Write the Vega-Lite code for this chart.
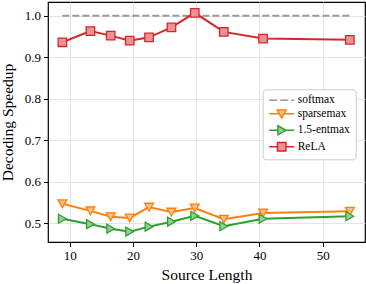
{
  "$schema": "https://vega.github.io/schema/vega-lite/v6.json",
  "width": 317,
  "height": 240,
  "autosize": {"type": "none"},
  "padding": {"left": 48, "top": 2, "right": 1, "bottom": 42},
  "config": {
    "view": {"stroke": "#000000", "strokeWidth": 1.2},
    "axis": {
      "labelFont": "Liberation Serif",
      "titleFont": "Liberation Serif",
      "labelFontSize": 13,
      "titleFontSize": 15.5,
      "titleFontWeight": 400,
      "labelColor": "#000000",
      "titleColor": "#000000",
      "tickColor": "#000000",
      "tickSize": 4.5,
      "tickWidth": 1,
      "gridColor": "#dddddd",
      "gridWidth": 0.8,
      "domain": false,
      "labelPadding": 3
    },
    "legend": {
      "labelFont": "Liberation Serif",
      "labelFontSize": 11.5,
      "labelColor": "#000000"
    }
  },
  "data": {
    "values": [
      {"series": "softmax", "x": 8.84, "y": 1.0},
      {"series": "softmax", "x": 54.3, "y": 1.0},
      {"series": "sparsemax", "x": 8.84, "y": 0.547},
      {"series": "sparsemax", "x": 13.28, "y": 0.530},
      {"series": "sparsemax", "x": 16.49, "y": 0.516},
      {"series": "sparsemax", "x": 19.49, "y": 0.513},
      {"series": "sparsemax", "x": 22.55, "y": 0.539},
      {"series": "sparsemax", "x": 26.09, "y": 0.527},
      {"series": "sparsemax", "x": 29.78, "y": 0.537},
      {"series": "sparsemax", "x": 34.37, "y": 0.510},
      {"series": "sparsemax", "x": 40.58, "y": 0.525},
      {"series": "sparsemax", "x": 54.3, "y": 0.529},
      {"series": "1.5-entmax", "x": 8.84, "y": 0.511},
      {"series": "1.5-entmax", "x": 13.28, "y": 0.498},
      {"series": "1.5-entmax", "x": 16.49, "y": 0.487},
      {"series": "1.5-entmax", "x": 19.49, "y": 0.480},
      {"series": "1.5-entmax", "x": 22.55, "y": 0.492},
      {"series": "1.5-entmax", "x": 26.09, "y": 0.504},
      {"series": "1.5-entmax", "x": 29.78, "y": 0.518},
      {"series": "1.5-entmax", "x": 34.37, "y": 0.493},
      {"series": "1.5-entmax", "x": 40.58, "y": 0.511},
      {"series": "1.5-entmax", "x": 54.3, "y": 0.517},
      {"series": "ReLA", "x": 8.84, "y": 0.936},
      {"series": "ReLA", "x": 13.28, "y": 0.963},
      {"series": "ReLA", "x": 16.49, "y": 0.952},
      {"series": "ReLA", "x": 19.49, "y": 0.940},
      {"series": "ReLA", "x": 22.55, "y": 0.948},
      {"series": "ReLA", "x": 26.09, "y": 0.972},
      {"series": "ReLA", "x": 29.78, "y": 1.007},
      {"series": "ReLA", "x": 34.37, "y": 0.961},
      {"series": "ReLA", "x": 40.58, "y": 0.945},
      {"series": "ReLA", "x": 54.3, "y": 0.942}
    ]
  },
  "encoding": {
    "x": {
      "field": "x",
      "type": "quantitative",
      "scale": {"domain": [6.57, 56.7], "nice": false, "zero": false},
      "axis": {"values": [10, 20, 30, 40, 50], "title": "Source Length", "titlePadding": 5, "titleFontWeight": 400}
    },
    "y": {
      "field": "y",
      "type": "quantitative",
      "scale": {"domain": [0.455, 1.033], "nice": false, "zero": false},
      "axis": {"values": [0.5, 0.6, 0.7, 0.8, 0.9, 1.0], "format": ".1f", "title": "Decoding Speedup", "titlePadding": 9, "titleFontWeight": 400}
    }
  },
  "layer": [
    {
      "transform": [{"filter": "datum.series === 'softmax'"}],
      "mark": {"type": "line", "stroke": "#999999", "strokeWidth": 2, "strokeDash": [7, 3]},
      "encoding": {}
    },
    {
      "transform": [{"filter": "datum.series === 'sparsemax'"}],
      "mark": {"type": "line", "stroke": "#ff7f0e", "strokeWidth": 2},
      "encoding": {}
    },
    {
      "transform": [{"filter": "datum.series === 'sparsemax'"}],
      "mark": {"type": "point", "shape": "triangle-down", "filled": true, "fill": "#ffbf87", "stroke": "#ff7f0e", "strokeWidth": 1.3, "size": 80, "opacity": 1}
    },
    {
      "transform": [{"filter": "datum.series === '1.5-entmax'"}],
      "mark": {"type": "line", "stroke": "#2ca02c", "strokeWidth": 2},
      "encoding": {}
    },
    {
      "transform": [{"filter": "datum.series === '1.5-entmax'"}],
      "mark": {"type": "point", "shape": "triangle-right", "filled": true, "fill": "#96cf96", "stroke": "#2ca02c", "strokeWidth": 1.3, "size": 80, "opacity": 1}
    },
    {
      "transform": [{"filter": "datum.series === 'ReLA'"}],
      "mark": {"type": "line", "stroke": "#d62728", "strokeWidth": 2},
      "encoding": {}
    },
    {
      "transform": [{"filter": "datum.series === 'ReLA'"}],
      "mark": {"type": "point", "shape": "square", "filled": true, "fill": "#eb9394", "stroke": "#d62728", "strokeWidth": 1.3, "size": 72, "opacity": 1}
    },
    {
      "mark": {"type": "point", "filled": true, "size": 0, "strokeWidth": 1.5, "opacity": 1},
      "encoding": {
        "shape": {
          "field": "series",
          "type": "nominal",
          "scale": {
            "domain": ["softmax", "sparsemax", "1.5-entmax", "ReLA"],
            "range": [
              "M-2.5,0H-0.9M-0.3,0H1.3M1.9,0H2.5",
              "M-2.5,0H-0.5M0.5,0H2.5M-0.9,-0.75L0.9,-0.75L0,0.85Z",
              "M-2.5,0H-0.75M0.85,0H2.5M-0.75,-0.9L-0.75,0.9L0.85,0Z",
              "M-2.5,0H-0.85M0.85,0H2.5M-0.85,-0.85H0.85V0.85H-0.85Z"
            ]
          },
          "legend": {
            "title": null,
            "orient": "none",
            "legendX": 214.7,
            "legendY": 87.3,
            "symbolSize": 100,
            "symbolOffset": 8,
            "labelOffset": 10,
            "rowPadding": 0.5,
            "padding": 5,
            "strokeColor": "#cccccc",
            "fillColor": "rgba(255,255,255,0.85)",
            "cornerRadius": 3
          }
        },
        "fill": {
          "field": "series",
          "type": "nominal",
          "scale": {
            "domain": ["softmax", "sparsemax", "1.5-entmax", "ReLA"],
            "range": ["#ffffff", "#ffbf87", "#96cf96", "#eb9394"]
          },
          "legend": {
            "title": null,
            "orient": "none",
            "legendX": 214.7,
            "legendY": 87.3,
            "symbolSize": 100,
            "symbolOffset": 8,
            "labelOffset": 10,
            "rowPadding": 0.5,
            "padding": 5,
            "strokeColor": "#cccccc",
            "fillColor": "rgba(255,255,255,0.85)",
            "cornerRadius": 3
          }
        },
        "stroke": {
          "field": "series",
          "type": "nominal",
          "scale": {
            "domain": ["softmax", "sparsemax", "1.5-entmax", "ReLA"],
            "range": ["#999999", "#ff7f0e", "#2ca02c", "#d62728"]
          },
          "legend": {
            "title": null,
            "orient": "none",
            "legendX": 214.7,
            "legendY": 87.3,
            "symbolSize": 100,
            "symbolOffset": 8,
            "labelOffset": 10,
            "rowPadding": 0.5,
            "padding": 5,
            "strokeColor": "#cccccc",
            "fillColor": "rgba(255,255,255,0.85)",
            "cornerRadius": 3
          }
        }
      }
    }
  ]
}
